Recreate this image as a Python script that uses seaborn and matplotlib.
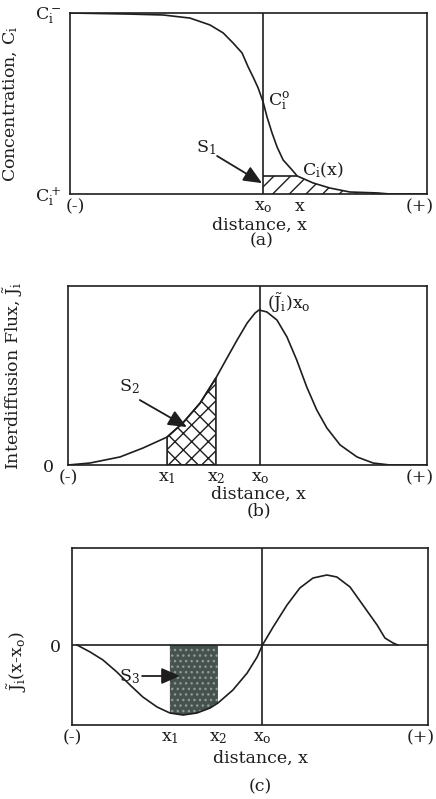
import numpy as np
import pandas as pd
import matplotlib
matplotlib.use("Agg")
import matplotlib.pyplot as plt
import seaborn as sns

# ---------------- data ----------------
# panel (a): concentration profile, normalised 0 (C+) .. 1 (C-)
a_x = [0.0, 1.68, 2.61, 3.36, 3.92, 4.29, 4.57, 4.82, 4.99, 5.13, 5.27, 5.41, 5.52, 5.66, 5.80,
       5.97, 6.22, 6.36, 6.81, 7.28, 7.84, 8.60, 8.96, 10.0]
a_y = [1.0, 0.994, 0.989, 0.972, 0.934, 0.890, 0.834, 0.779, 0.702, 0.646, 0.586, 0.508, 0.425, 0.337, 0.260,
       0.188, 0.133, 0.100, 0.061, 0.033, 0.011, 0.006, 0.0, 0.0]
a_x0 = 5.41
a_xm = 6.36
a_level = 0.100

# panel (b): interdiffusion flux
b_x = [0.0, 0.61, 1.45, 2.09, 2.76, 3.20, 3.68, 4.12, 4.43, 4.71, 4.99, 5.21, 5.32, 5.54, 5.82,
       6.10, 6.37, 6.65, 6.93, 7.21, 7.58, 8.05, 8.50, 8.97, 10.0]
b_y = [0.0, 0.011, 0.045, 0.095, 0.156, 0.235, 0.346, 0.486, 0.598, 0.698, 0.793, 0.849, 0.866, 0.855, 0.810,
       0.715, 0.587, 0.436, 0.307, 0.207, 0.112, 0.045, 0.011, 0.0, 0.0]
b_x1, b_x2, b_x0 = 2.76, 4.12, 5.35

# panel (c): flux times (x - x0)
c_x = [0.14, 0.51, 0.87, 1.26, 1.63, 1.99, 2.39, 2.75, 3.12, 3.51, 3.88, 4.10, 4.52, 4.92, 5.20, 5.35,
       5.65, 6.04, 6.40, 6.77, 7.16, 7.44, 7.81, 8.17, 8.57, 8.79, 9.02, 9.15]
c_y = [0.0, -0.07, -0.15, -0.27, -0.40, -0.52, -0.62, -0.68, -0.70, -0.68, -0.63, -0.58, -0.45, -0.28, -0.12, 0.0,
       0.18, 0.40, 0.57, 0.67, 0.70, 0.68, 0.58, 0.40, 0.20, 0.07, 0.02, 0.0]
c_x1, c_x2, c_x0 = 2.75, 4.10, 5.35

# ---------------- style ----------------
sns.set_theme(style="white")
plt.rcParams["font.family"] = ["DejaVu Serif"]
plt.rcParams["mathtext.fontset"] = "dejavuserif"
plt.rcParams["hatch.linewidth"] = 1.0
FS = 12.5
INK = "#1e1e1e"

fig = plt.figure(figsize=(4.36, 7.99), dpi=100)
W, H = 436.0, 799.0


def make_axes(l, r, t, b):
    return fig.add_axes([l / W, 1 - b / H, (r - l) / W, (b - t) / H])


def style(ax):
    for s in ax.spines.values():
        s.set_color(INK)
        s.set_linewidth(1.2)
    ax.tick_params(length=0, labelsize=FS, colors=INK)


arrow_kw = dict(arrowstyle="-|>,head_length=0.8,head_width=0.35", color=INK, lw=1.3,
                mutation_scale=14, shrinkA=0, shrinkB=0)

# ---------------- panel (a) ----------------
axA = make_axes(70, 427, 13, 194)
style(axA)
da = pd.DataFrame({"x": a_x, "y": a_y})
sns.lineplot(data=da, x="x", y="y", ax=axA, color=INK, lw=1.2, sort=False)
axA.axvline(a_x0, color=INK, lw=1.2)
ax_arr = np.array(a_x)
ay_arr = np.array(a_y)
axA.fill_between(ax_arr, 0, np.minimum(ay_arr, a_level), where=ax_arr >= a_x0,
                 facecolor="none", edgecolor=INK, hatch="//", linewidth=0)
axA.hlines(a_level, a_x0, a_xm, color=INK, lw=1.2)
axA.set_xlim(0, 10)
axA.set_ylim(0, 1)
axA.set_xticks([0.14, a_x0, 6.44, 9.8], ["(-)", r"$\mathrm{x_o}$", "x", "(+)"])
axA.set_yticks([0.0, 1.0], [r"$\mathrm{C_i^+}$", r"$\mathrm{C_i^-}$"])
axA.tick_params(axis="x", pad=3)
axA.tick_params(axis="y", pad=6)
axA.set_xlabel("distance, x", fontsize=FS, color=INK)
axA.xaxis.set_label_coords(0.532, -0.125)
axA.xaxis.label.set_va("top")
axA.set_ylabel(r"Concentration, $\mathrm{C_i}$", fontsize=FS, color=INK)
axA.yaxis.set_label_coords(-0.14, 0.5)
axA.text(5.55, 0.51, r"$\mathrm{C_i^o}$", fontsize=FS, color=INK, ha="left", va="center")
axA.text(6.5, 0.13, r"$\mathrm{C_i(x)}$", fontsize=FS, color=INK, ha="left", va="center")
axA.text(3.81, 0.254, r"$\mathrm{S_1}$", fontsize=FS, color=INK, ha="center", va="center")
axA.annotate("", xy=(5.38, 0.06), xytext=(4.12, 0.21), arrowprops=arrow_kw)

# ---------------- panel (b) ----------------
axB = make_axes(68, 427, 286, 465)
style(axB)
db = pd.DataFrame({"x": b_x, "y": b_y})
sns.lineplot(data=db, x="x", y="y", ax=axB, color=INK, lw=1.2, sort=False)
axB.axvline(b_x0, color=INK, lw=1.2)
bx_arr = np.array(b_x)
by_arr = np.array(b_y)
axB.fill_between(bx_arr, 0, by_arr, where=(bx_arr >= b_x1) & (bx_arr <= b_x2),
                 facecolor="none", edgecolor=INK, hatch="xx", linewidth=1.2)
axB.set_xlim(0, 10)
axB.set_ylim(0, 1)
axB.set_xticks([0.0, b_x1, b_x2, b_x0, 9.8],
               ["(-)", r"$\mathrm{x_1}$", r"$\mathrm{x_2}$", r"$\mathrm{x_o}$", "(+)"])
axB.set_yticks([0.0], ["0"])
axB.tick_params(axis="x", pad=3)
axB.tick_params(axis="y", pad=10)
axB.set_xlabel("distance, x", fontsize=FS, color=INK)
axB.xaxis.set_label_coords(0.53, -0.115)
axB.xaxis.label.set_va("top")
axB.set_ylabel(r"Interdiffusion Flux, $\tilde{\mathrm{J}}_\mathrm{i}$", fontsize=FS, color=INK)
axB.yaxis.set_label_coords(-0.12, 0.5)
axB.text(5.54, 0.905, r"$(\tilde{\mathrm{J}}_\mathrm{i})\mathrm{x_o}$", fontsize=FS, color=INK,
         ha="left", va="center")
axB.text(1.70, 0.436, r"$\mathrm{S_2}$", fontsize=FS, color=INK, ha="center", va="center")
axB.annotate("", xy=(3.31, 0.212), xytext=(2.0, 0.363), arrowprops=arrow_kw)

# ---------------- panel (c) ----------------
axC = make_axes(72, 428, 548, 725)
style(axC)
dc = pd.DataFrame({"x": c_x, "y": c_y})
sns.lineplot(data=dc, x="x", y="y", ax=axC, color=INK, lw=1.2, sort=False)
axC.axvline(c_x0, color=INK, lw=1.2)
axC.axhline(0, color=INK, lw=1.2)
cx_arr = np.array(c_x)
cy_arr = np.array(c_y)
axC.fill_between(cx_arr, 0, cy_arr, where=(cx_arr >= c_x1) & (cx_arr <= c_x2),
                 facecolor="#46524e", edgecolor="#8d9c97", hatch="...", linewidth=0)
axC.set_xlim(0, 10)
axC.set_ylim(-0.80, 0.97)
axC.set_xticks([0.0, c_x1, c_x2, c_x0, 9.8],
               ["(-)", r"$\mathrm{x_1}$", r"$\mathrm{x_2}$", r"$\mathrm{x_o}$", "(+)"])
axC.set_yticks([0.0], ["0"])
axC.tick_params(axis="x", pad=3)
axC.tick_params(axis="y", pad=8)
axC.set_xlabel("distance, x", fontsize=FS, color=INK)
axC.xaxis.set_label_coords(0.53, -0.14)
axC.xaxis.label.set_va("top")
axC.set_ylabel(r"$\tilde{\mathrm{J}}_\mathrm{i}\mathrm{(x\text{-}x_o)}$", fontsize=FS, color=INK)
axC.yaxis.set_label_coords(-0.12, 0.356)
axC.text(1.6, -0.32, r"$\mathrm{S_3}$", fontsize=FS, color=INK, ha="center", va="center")
axC.annotate("", xy=(3.03, -0.31), xytext=(1.97, -0.31), arrowprops=arrow_kw)

# panel letters
fig.text(262 / W, 1 - 241 / H, "(a)", fontsize=FS, color=INK, ha="center", va="center")
fig.text(259 / W, 1 - 511 / H, "(b)", fontsize=FS, color=INK, ha="center", va="center")
fig.text(260 / W, 1 - 787 / H, "(c)", fontsize=FS, color=INK, ha="center", va="center")

fig.savefig("out.png", dpi=100)
